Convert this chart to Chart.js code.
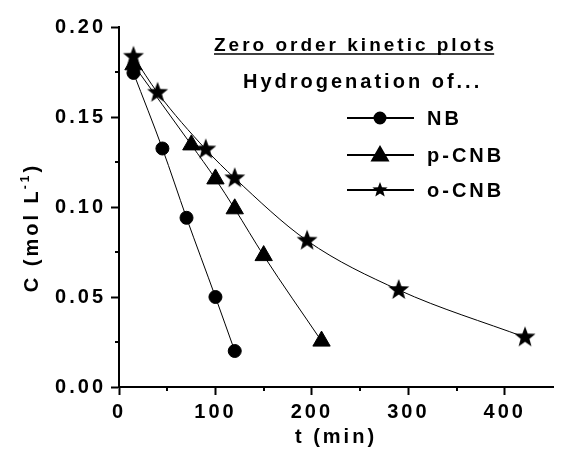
<!DOCTYPE html>
<html>
<head>
<meta charset="utf-8">
<script src="https://cdn.jsdelivr.net/npm/chart.js@4/dist/chart.umd.min.js"></script>
<style>
  html, body { margin: 0; padding: 0; background: #fff; }
  #wrap { width: 564px; height: 450px; position: relative; }
</style>
</head>
<body>
<div id="wrap"><canvas id="c" width="564" height="450"></canvas></div>
<script>
// ---- data ----
const seriesNames = ['NB', 'p-CNB', 'o-CNB'];
const tNB   = [15, 45, 70, 100, 120];
const cNB   = [0.1745, 0.1325, 0.094, 0.050, 0.020];
const tPCNB = [15, 75, 100, 120, 150, 210];
const cPCNB = [0.179, 0.1345, 0.1156, 0.099, 0.073, 0.0255];
const tOCNB = [15, 40, 90, 120, 195, 290, 421];
const cOCNB = [0.1835, 0.1635, 0.132, 0.116, 0.0813, 0.0539, 0.0276];
const xTickValues = [0, 100, 200, 300, 400];
const yTickLabels = ['0.00', '0.05', '0.10', '0.15', '0.20'];
const titleText = 'Zero order kinetic plots';
const subtitleText = 'Hydrogenation of...';
const xTitle = 't (min)';
const yTitleMain = 'C (mol L';
const yTitleSup = '-1';
const yTitleEnd = ')';

const FONT = '"Liberation Sans", Arial, sans-serif';
const SPACING = '3px';

function makeStar(size, outer, inner) {
  const cv = document.createElement('canvas');
  cv.width = size; cv.height = size;
  const g = cv.getContext('2d');
  g.fillStyle = '#000';
  g.beginPath();
  for (let i = 0; i < 10; i++) {
    const r = i % 2 === 0 ? outer : inner;
    const a = -Math.PI / 2 + i * Math.PI / 5;
    const px = size / 2 + r * Math.cos(a), py = size / 2 + r * Math.sin(a);
    if (i === 0) g.moveTo(px, py); else g.lineTo(px, py);
  }
  g.closePath();
  g.fill();
  return cv;
}
const starBig = makeStar(24, 11, 4.6);
const starSmall = makeStar(18, 8, 3.4);

function toPts(xs, ys) { return xs.map((x, i) => ({ x: x, y: ys[i] })); }

const common = {
  borderColor: '#000',
  backgroundColor: '#000',
  pointBackgroundColor: '#000',
  pointBorderColor: '#000',
  borderWidth: 1,
  cubicInterpolationMode: 'monotone',
  showLine: true,
  fill: false
};

const spacingPlugin = {
  id: 'spacing',
  beforeLayout(chart) { chart.ctx.letterSpacing = SPACING; },
  beforeDraw(chart) { chart.ctx.letterSpacing = SPACING; }
};

const decorPlugin = {
  id: 'decor',
  afterDraw(chart) {
    const ctx = chart.ctx;
    const xs = chart.scales.x, ys = chart.scales.y;
    const ca = chart.chartArea;
    ctx.save();
    ctx.letterSpacing = SPACING;
    ctx.strokeStyle = '#000';
    ctx.fillStyle = '#000';
    // minor ticks
    ctx.lineWidth = 2;
    [0.025, 0.075, 0.125, 0.175].forEach(v => {
      const py = Math.round(ys.getPixelForValue(v));
      ctx.beginPath(); ctx.moveTo(ca.left - 4, py); ctx.lineTo(ca.left, py); ctx.stroke();
    });
    [50, 150, 250, 350].forEach(v => {
      const px = Math.round(xs.getPixelForValue(v));
      ctx.beginPath(); ctx.moveTo(px, ca.bottom); ctx.lineTo(px, ca.bottom + 4); ctx.stroke();
    });
    // title
    ctx.font = 'bold 19px ' + FONT;
    ctx.textBaseline = 'alphabetic';
    ctx.textAlign = 'left';
    ctx.fillText(titleText, 214, 51);
    const tw = ctx.measureText(titleText).width - 3;
    ctx.lineWidth = 1.5;
    ctx.beginPath(); ctx.moveTo(214, 54); ctx.lineTo(214 + tw, 54); ctx.stroke();
    ctx.font = 'bold 20px ' + FONT;
    ctx.fillText(subtitleText, 243, 88);
    // legend
    const legY = [118, 155, 190];
    const styles = ['circle', 'triangle', starSmall];
    const radii = [5.5, 9, 8];
    legY.forEach((ly, i) => {
      ctx.lineWidth = 2;
      ctx.beginPath(); ctx.moveTo(347, ly); ctx.lineTo(414, ly); ctx.stroke();
      Chart.helpers.drawPoint(ctx, { pointStyle: styles[i], radius: radii[i], borderWidth: 1 }, 380, ly + (i === 1 ? 1 : 0));
      ctx.fillStyle = '#000';
      ctx.font = 'bold 20px ' + FONT;
      ctx.textBaseline = 'middle';
      ctx.textAlign = 'left';
      ctx.fillText(seriesNames[i], 427, ly + 1);
    });
    // x title
    ctx.font = 'bold 20px ' + FONT;
    ctx.textBaseline = 'alphabetic';
    ctx.textAlign = 'center';
    ctx.fillText(xTitle, 336, 443);
    // y title (rotated)
    ctx.translate(38, 227);
    ctx.rotate(-Math.PI / 2);
    ctx.textAlign = 'left';
    ctx.font = 'bold 20px ' + FONT;
    const w1 = ctx.measureText(yTitleMain).width;
    ctx.font = 'bold 12px ' + FONT;
    const w2 = ctx.measureText(yTitleSup).width;
    ctx.font = 'bold 20px ' + FONT;
    const w3 = ctx.measureText(yTitleEnd).width;
    let sx = -(w1 + w2 + w3) / 2;
    ctx.fillText(yTitleMain, sx, 0);
    ctx.font = 'bold 12px ' + FONT;
    ctx.fillText(yTitleSup, sx + w1 - 1, -9);
    ctx.font = 'bold 20px ' + FONT;
    ctx.fillText(yTitleEnd, sx + w1 + w2 - 1, 0);
    ctx.restore();
  }
};

new Chart(document.getElementById('c'), {
  type: 'scatter',
  data: {
    datasets: [
      Object.assign({}, common, { label: seriesNames[0], data: toPts(tNB, cNB), pointStyle: 'circle', pointRadius: 6.5 }),
      Object.assign({}, common, { label: seriesNames[1], data: toPts(tPCNB, cPCNB), pointStyle: 'triangle', pointRadius: 10 }),
      Object.assign({}, common, { label: seriesNames[2], data: toPts(tOCNB, cOCNB), pointStyle: starBig, pointRadius: 10 })
    ]
  },
  options: {
    responsive: false,
    animation: false,
    devicePixelRatio: 1,
    layout: { padding: { top: 27, right: 0, left: 0, bottom: 0 } },
    plugins: { legend: { display: false }, tooltip: { enabled: false } },
    scales: {
      x: {
        type: 'linear', min: 0, max: 450,
        afterFit(s) { s.height = 63; },
        border: { display: true, color: '#000', width: 2 },
        grid: { drawOnChartArea: false, tickLength: 8, tickWidth: 2, tickColor: '#000' },
        ticks: {
          stepSize: 100, includeBounds: false, padding: 5, color: '#000',
          font: { family: FONT, size: 20, weight: 'bold' },
          maxRotation: 0, autoSkip: false,
          callback: v => (xTickValues.indexOf(v) >= 0 ? String(v) : '')
        }
      },
      y: {
        type: 'linear', min: 0, max: 0.2,
        afterFit(s) { s.width = 119; },
        border: { display: true, color: '#000', width: 2 },
        grid: { drawOnChartArea: false, tickLength: 8, tickWidth: 2, tickColor: '#000' },
        ticks: {
          stepSize: 0.05, padding: 5, color: '#000',
          font: { family: FONT, size: 20, weight: 'bold' },
          autoSkip: false,
          callback: (v, i) => yTickLabels[Math.round(v / 0.05)]
        }
      }
    }
  },
  plugins: [spacingPlugin, decorPlugin]
});
</script>
</body>
</html>
